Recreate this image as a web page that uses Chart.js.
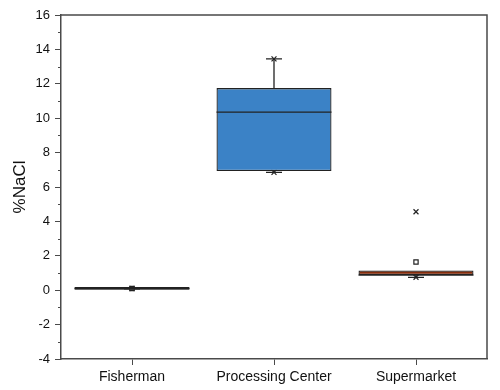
<!DOCTYPE html>
<html>
<head>
<meta charset="utf-8">
<script src="https://cdn.jsdelivr.net/npm/chart.js@4.4.1/dist/chart.umd.min.js"></script>
<style>
  html, body { margin: 0; padding: 0; background: #fff; }
  #wrap { width: 500px; height: 390px; }
</style>
</head>
<body>
<div id="wrap"><canvas id="chart" width="500" height="390"></canvas></div>
<script>
// --- data ---
const categories = ['Fisherman', 'Processing Center', 'Supermarket'];
const q1Values = [0.02, 6.93, 0.88];
const q3Values = [0.18, 11.75, 1.15];
const medianValues = [0.1, 10.35, 0.88];
const meanValues = [0.1, 9.84, 1.64];
const whiskerLow = [0.1, 6.85, 0.75];
const whiskerHigh = [0.1, 13.45, 1.15];
const outlierValues = [null, null, 4.56];
const boxColors = ['#000000', '#3b82c6', '#862d0c'];

const frameColor = '#4a4a4a';

// whiskers, medians, minor ticks and the frame
const boxExtras = {
    id: 'boxExtras',
    afterDatasetsDraw(chart) {
        const ctx = chart.ctx;
        const x = chart.scales.x;
        const y = chart.scales.y;
        const meta = chart.getDatasetMeta(0);
        ctx.save();
        categories.forEach((c, i) => {
            const bar = meta.data[i];
            const cx = x.getPixelForValue(i);
            const half = bar.width / 2;
            ctx.strokeStyle = '#222';
            ctx.lineWidth = 1.3;
            // median
            ctx.beginPath();
            ctx.moveTo(cx - half, y.getPixelForValue(medianValues[i]));
            ctx.lineTo(cx + half, y.getPixelForValue(medianValues[i]));
            ctx.stroke();
            // whiskers with caps
            const pairs = [[q3Values[i], whiskerHigh[i]], [q1Values[i], whiskerLow[i]]];
            pairs.forEach(([from, to]) => {
                if (Math.abs(to - from) < 0.05) return;
                ctx.beginPath();
                ctx.moveTo(cx, y.getPixelForValue(from));
                ctx.lineTo(cx, y.getPixelForValue(to));
                ctx.moveTo(cx - 8, y.getPixelForValue(to));
                ctx.lineTo(cx + 8, y.getPixelForValue(to));
                ctx.stroke();
            });
        });
        // minor ticks on y
        ctx.strokeStyle = frameColor;
        ctx.lineWidth = 1;
        y.ticks.forEach(t => {
            if (t.value % 2 !== 0) {
                const py = Math.round(y.getPixelForValue(t.value)) + 0.5;
                ctx.beginPath();
                ctx.moveTo(y.right - 3, py);
                ctx.lineTo(y.right, py);
                ctx.stroke();
            }
        });
        // top and right frame
        const a = chart.chartArea;
        ctx.strokeStyle = frameColor;
        ctx.lineWidth = 1.5;
        ctx.beginPath();
        ctx.moveTo(a.left, a.top);
        ctx.lineTo(a.right, a.top);
        ctx.lineTo(a.right, a.bottom);
        ctx.stroke();
        ctx.restore();
    }
};

new Chart(document.getElementById('chart'), {
    data: {
        labels: categories,
        datasets: [
            {
                type: 'bar',
                data: categories.map((c, i) => [q1Values[i], q3Values[i]]),
                backgroundColor: boxColors,
                borderColor: '#222',
                borderWidth: 1.3,
                borderSkipped: false,
                barPercentage: 0.81,
                categoryPercentage: 1
            },
            {
                type: 'line',
                data: meanValues,
                showLine: false,
                pointStyle: 'rect',
                pointRadius: 3,
                pointBackgroundColor: '#fff',
                pointBorderColor: '#222',
                pointBorderWidth: 1.2
            },
            {
                type: 'line',
                data: whiskerLow,
                showLine: false,
                pointStyle: 'crossRot',
                pointRadius: 3.5,
                pointBorderColor: '#222',
                pointBorderWidth: 1.2
            },
            {
                type: 'line',
                data: whiskerHigh.map((v, i) => v > q3Values[i] + 0.05 ? v : null),
                showLine: false,
                pointStyle: 'crossRot',
                pointRadius: 3.5,
                pointBorderColor: '#222',
                pointBorderWidth: 1.2
            },
            {
                type: 'line',
                data: outlierValues,
                showLine: false,
                pointStyle: 'crossRot',
                pointRadius: 3.5,
                pointBorderColor: '#222',
                pointBorderWidth: 1.2
            }
        ]
    },
    options: {
        responsive: false,
        animation: false,
        layout: { padding: { top: 15, right: 13, left: 0, bottom: 0 } },
        plugins: {
            legend: { display: false },
            tooltip: { enabled: false }
        },
        scales: {
            x: {
                type: 'category',
                offset: true,
                afterFit: s => { s.height = 31; },
                border: { color: frameColor, width: 1.5 },
                grid: { offset: false, drawOnChartArea: false, tickLength: 6, color: frameColor, tickWidth: 1 },
                ticks: {
                    color: '#111',
                    padding: 4,
                    font: { family: 'Liberation Sans', size: 14 }
                }
            },
            y: {
                min: -4,
                max: 16,
                afterFit: s => { s.width = 61; },
                border: { color: frameColor, width: 1.5 },
                grid: {
                    drawOnChartArea: false,
                    tickLength: 6,
                    tickWidth: 1,
                    tickColor: c => (c.tick && c.tick.value % 2 !== 0) ? 'rgba(0,0,0,0)' : frameColor
                },
                ticks: {
                    stepSize: 1,
                    autoSkip: false,
                    padding: 5,
                    color: '#111',
                    font: { family: 'Liberation Sans', size: 13 },
                    callback: v => (v % 2 === 0 ? v : '')
                },
                title: {
                    display: true,
                    text: '%NaCl',
                    color: '#111',
                    padding: { top: 10, bottom: 0 },
                    font: { family: 'Liberation Sans', size: 17 }
                }
            }
        }
    },
    plugins: [boxExtras]
});
</script>
</body>
</html>
